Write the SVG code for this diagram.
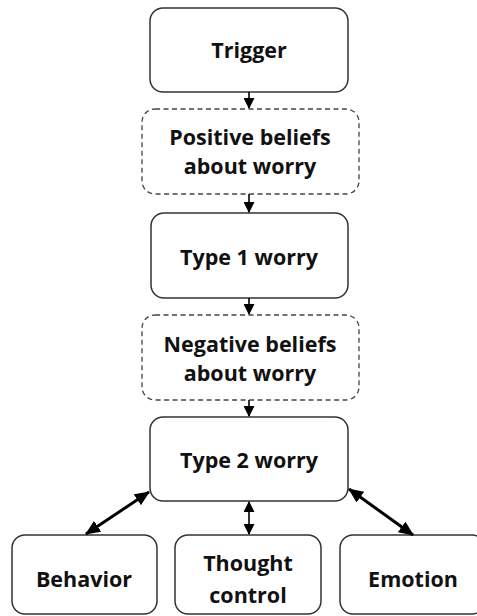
<svg xmlns="http://www.w3.org/2000/svg" width="477" height="616" viewBox="0 0 477 616">
<defs>
<marker id="ah" markerWidth="11" markerHeight="11" refX="10" refY="5.5" orient="auto-start-reverse" markerUnits="userSpaceOnUse" viewBox="0 0 11 11">
<path d="M0,0 L11,5.5 L0,11 Z" fill="#000"/>
</marker>
<marker id="ah2" markerWidth="15" markerHeight="13" refX="14" refY="6.5" orient="auto-start-reverse" markerUnits="userSpaceOnUse" viewBox="0 0 15 13">
<path d="M0,0 L15,6.5 L0,13 Z" fill="#000"/>
</marker>
</defs>
<style>
.box{fill:#fff;stroke:#333;stroke-width:1.5}
.dash{fill:#fff;stroke:#444;stroke-width:1.3;stroke-dasharray:5 3.5}
text{font-family:"Open Sans","Liberation Sans",sans-serif;font-weight:bold;font-size:21.5px;fill:#111;text-anchor:middle}
.c{stroke:#000;stroke-width:1.6;fill:none}
.t{stroke:#000;stroke-width:3;fill:none}
</style>
<rect width="477" height="616" fill="#fff"/>
<g id="trigger"><rect class="box" x="150" y="8" width="198" height="84" rx="13"/><text x="249" y="58">Trigger</text></g>
<g id="positive"><rect class="dash" x="142" y="109" width="217" height="85" rx="13"/><text x="250" y="145">Positive beliefs</text><text x="250" y="174">about worry</text></g>
<g id="type1"><rect class="box" x="151" y="213" width="197" height="85" rx="13"/><text x="249" y="265">Type 1 worry</text></g>
<g id="negative"><rect class="dash" x="142" y="315" width="217" height="85" rx="13"/><text x="250" y="352">Negative beliefs</text><text x="250" y="381">about worry</text></g>
<g id="type2"><rect class="box" x="150" y="417" width="198" height="84" rx="13"/><text x="249" y="468">Type 2 worry</text></g>
<g id="behavior"><rect class="box" x="12" y="535" width="145" height="79" rx="13"/><text x="84" y="587">Behavior</text></g>
<g id="thought"><rect class="box" x="175" y="535" width="146" height="79" rx="13"/><text x="248" y="571">Thought</text><text x="248" y="603">control</text></g>
<g id="emotion"><rect class="box" x="340" y="535" width="145" height="79" rx="13"/><text x="413" y="587">Emotion</text></g>
<g id="connectors">
<line class="c" x1="249" y1="92" x2="249" y2="108" marker-end="url(#ah)"/>
<line class="c" x1="249" y1="194" x2="249" y2="212" marker-end="url(#ah)"/>
<line class="c" x1="249" y1="298" x2="249" y2="314" marker-end="url(#ah)"/>
<line class="c" x1="249" y1="400" x2="249" y2="416" marker-end="url(#ah)"/>
<line class="c" x1="249" y1="502" x2="249" y2="534" marker-start="url(#ah)" marker-end="url(#ah)"/>
<line class="t" x1="149" y1="492" x2="86" y2="534" marker-start="url(#ah2)" marker-end="url(#ah2)"/>
<line class="t" x1="349" y1="489" x2="413" y2="535" marker-start="url(#ah2)" marker-end="url(#ah2)"/>
</g>
</svg>
